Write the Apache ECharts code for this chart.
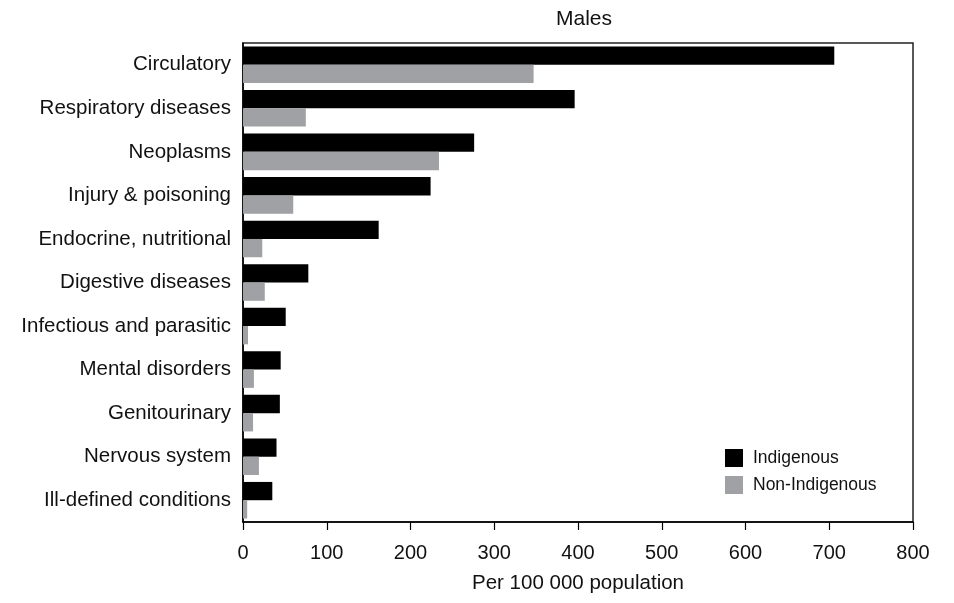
<!DOCTYPE html>
<html><head><meta charset="utf-8">
<script src="https://cdn.jsdelivr.net/npm/echarts@6/dist/echarts.min.js"></script>
<style>html,body{margin:0;padding:0;background:#fff}#c{width:954px;height:603px}</style>
</head><body><div id="c"></div>
<script>
const categories = ["Circulatory","Respiratory diseases","Neoplasms","Injury & poisoning","Endocrine, nutritional","Digestive diseases","Infectious and parasitic","Mental disorders","Genitourinary","Nervous system","Ill-defined conditions"];
const indigenous = [706,396,276,224,162,78,51,45,44,40,35];
const nonIndigenous = [347,75,234,60,23,26,6,13,12,19,5];
const xTicks = {min:0,max:800,interval:100};
const FONT = "Liberation Sans";
const chart = echarts.init(document.getElementById('c'));
chart.setOption({
  animation:false,
  title:{text:"Males",left:579,top:4,textAlign:'center',textStyle:{fontFamily:FONT,fontSize:21,fontWeight:'normal',color:'#111'}},
  grid:{left:243,right:41,top:43,bottom:81,outerBoundsMode:'none',containLabel:false,show:true,borderColor:'#222',borderWidth:1.5,backgroundColor:'transparent'},
  legend:{orient:'vertical',left:720,top:444,itemWidth:18,itemHeight:18,itemGap:9,icon:'rect',
    textStyle:{fontFamily:FONT,fontSize:17.5,color:'#111',padding:[0,0,0,5]},data:["Indigenous","Non-Indigenous"]},
  xAxis:{type:'value',min:xTicks.min,max:xTicks.max,interval:xTicks.interval,
    name:"Per 100 000 population",nameLocation:'middle',nameGap:51,
    nameTextStyle:{fontFamily:FONT,fontSize:20.5,color:'#111'},
    axisLine:{show:true,lineStyle:{color:'#000',width:1.5}},
    axisTick:{show:true,length:8,lineStyle:{color:'#000',width:1.2}},
    axisLabel:{fontFamily:FONT,fontSize:20,color:'#111',margin:21},
    splitLine:{show:false}},
  yAxis:{type:'category',data:categories,inverse:true,
    axisLine:{show:true,lineStyle:{color:'#000',width:1.5}},
    axisTick:{show:false},
    axisLabel:{fontFamily:FONT,fontSize:20.5,color:'#111',margin:12}},
  series:[
    {name:"Indigenous",type:'bar',data:indigenous,itemStyle:{color:'#000'},barGap:'0%',barCategoryGap:'16%'},
    {name:"Non-Indigenous",type:'bar',data:nonIndigenous,itemStyle:{color:'#a0a1a5'},barGap:'0%',barCategoryGap:'16%'}
  ]
});
</script></body></html>
